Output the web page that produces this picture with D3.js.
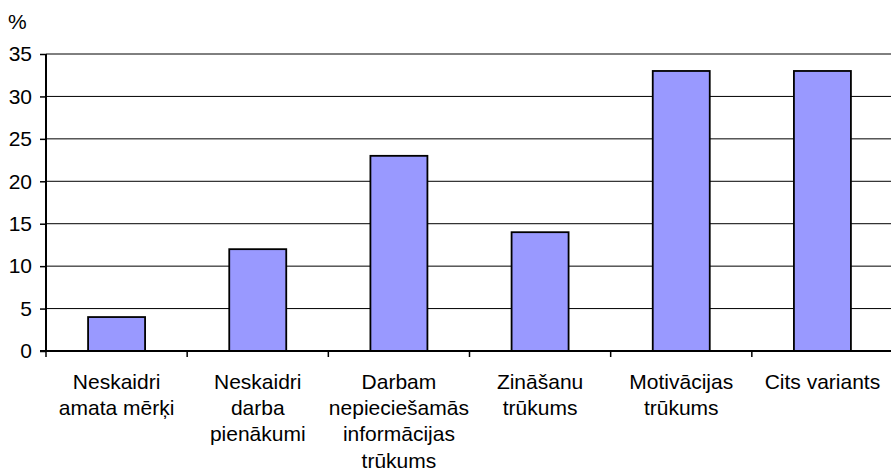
<!DOCTYPE html>
<html>
<head>
<meta charset="utf-8">
<script src="https://cdn.jsdelivr.net/npm/d3@7"></script>
<style>
  html, body { margin: 0; padding: 0; background: #fff; }
  svg { display: block; }
  text { font-family: "Liberation Sans", Arial, sans-serif; fill: #000; }
</style>
</head>
<body>
<svg id="chart" width="891" height="472"></svg>
<script>
// Category labels (line breaks as drawn under the axis)
const categories = [
  "Neskaidri\namata mērķi",
  "Neskaidri\ndarba\npienākumi",
  "Darbam\nnepieciešamās\ninformācijas\ntrūkums",
  "Zināšanu\ntrūkums",
  "Motivācijas\ntrūkums",
  "Cits variants"
];
const values = [4, 12, 23, 14, 33, 33];
const yTicks = [0, 5, 10, 15, 20, 25, 30, 35];
const yUnit = "%";

(function draw() {
  const svg = d3.select("#chart");
  const mLeft = 46, mRight = 893, mTop = 54, mBottom = 351;
  const fontSize = 21;

  const x = d3.scaleBand().domain(categories).range([mLeft, mRight]).paddingInner(0).paddingOuter(0);
  const y = d3.scaleLinear().domain([0, 35]).range([mBottom, mTop]);

  // Horizontal gridlines
  svg.append("g")
    .selectAll("line")
    .data(yTicks.filter(d => d > 0))
    .join("line")
    .attr("x1", mLeft).attr("x2", mRight)
    .attr("y1", d => y(d)).attr("y2", d => y(d))
    .attr("stroke", "#000").attr("stroke-width", 1);

  // Bars
  const barW = 57;
  svg.append("g")
    .selectAll("rect")
    .data(categories.map((c, i) => ({ c, v: values[i] })))
    .join("rect")
    .attr("x", d => x(d.c) + (x.bandwidth() - barW) / 2)
    .attr("width", barW)
    .attr("y", d => y(d.v))
    .attr("height", d => y(0) - y(d.v))
    .attr("fill", "#9999ff")
    .attr("stroke", "#000")
    .attr("stroke-width", 1.8);

  // Y axis
  const yAxis = svg.append("g")
    .attr("transform", `translate(${mLeft},0)`)
    .call(d3.axisLeft(y).tickValues(yTicks).tickSize(6).tickPadding(8));
  yAxis.select(".domain").attr("stroke", "#000").attr("stroke-width", 2).attr("d", `M0,${mTop}V${mBottom}`);
  yAxis.selectAll(".tick line").attr("stroke", "#000").attr("stroke-width", 1.5);
  yAxis.selectAll(".tick text")
    .attr("font-size", fontSize)
    .attr("font-family", "Liberation Sans, Arial, sans-serif");

  // X axis with tick marks at band boundaries
  const boundaries = categories.map(c => x(c)).concat([mRight]);
  svg.append("line")
    .attr("x1", mLeft - 6).attr("x2", mRight)
    .attr("y1", mBottom).attr("y2", mBottom)
    .attr("stroke", "#000").attr("stroke-width", 2);
  svg.append("g")
    .selectAll("line")
    .data(boundaries)
    .join("line")
    .attr("x1", d => d).attr("x2", d => d)
    .attr("y1", mBottom).attr("y2", mBottom + 6)
    .attr("stroke", "#000").attr("stroke-width", 1.5);

  // Category labels
  const lineH = 26.2;
  const labels = svg.append("g")
    .selectAll("text")
    .data(categories)
    .join("text")
    .attr("x", d => x(d) + x.bandwidth() / 2)
    .attr("y", mBottom + 38)
    .attr("text-anchor", "middle")
    .attr("font-size", fontSize);
  labels.each(function(d) {
    const t = d3.select(this);
    d.split("\n").forEach((line, i) => {
      t.append("tspan")
        .attr("x", x(d) + x.bandwidth() / 2)
        .attr("dy", i === 0 ? 0 : lineH)
        .text(line);
    });
  });

  // Unit label
  svg.append("text")
    .attr("x", 8).attr("y", 29)
    .attr("font-size", fontSize)
    .text(yUnit);
})();
</script>
</body>
</html>
